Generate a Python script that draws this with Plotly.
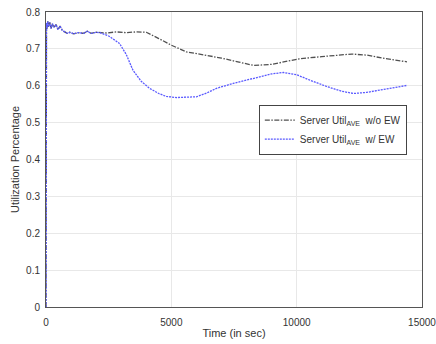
import plotly.graph_objects as go

t_wo = [0, 8, 20, 40, 70, 100, 150, 200, 260, 320, 400, 480, 560, 650, 750, 850, 950, 1100, 1300, 1500, 1650, 1800, 2000,
        2400, 2800, 3200, 3600, 4000, 4500, 5000, 5600, 6300, 7000, 7700, 8300, 9000, 9700, 10100, 11000, 11700, 12200,
        12800, 13500, 14400]
u_wo = [0, 0.45, 0.77, 0.755, 0.775, 0.76, 0.772, 0.755, 0.768, 0.758, 0.766, 0.752, 0.762, 0.75, 0.746, 0.742, 0.745, 0.741, 0.744, 0.742, 0.748, 0.742, 0.745,
        0.743, 0.746, 0.744, 0.746, 0.745, 0.728, 0.71, 0.692, 0.684, 0.675, 0.664, 0.655, 0.658, 0.667, 0.673, 0.679, 0.684, 0.686,
        0.683, 0.674, 0.665]

t_w = [0, 8, 20, 40, 70, 100, 150, 200, 260, 320, 400, 480, 560, 650, 750, 850, 950, 1100, 1300, 1500, 1650, 1800, 2000,
       2150, 2500, 2930, 3200, 3470, 3800, 4130, 4500, 4800, 5200, 6000, 6400, 6800, 7500, 8100, 8530, 9000, 9470, 10000,
       10530, 11200, 11800, 12270, 12800, 13500, 14400]
u_w = [0, 0.45, 0.77, 0.755, 0.775, 0.76, 0.772, 0.755, 0.768, 0.758, 0.766, 0.752, 0.762, 0.75, 0.746, 0.742, 0.745, 0.741, 0.744, 0.742, 0.748, 0.742, 0.745,
       0.744, 0.735, 0.715, 0.685, 0.642, 0.612, 0.593, 0.579, 0.571, 0.568, 0.57, 0.58, 0.593, 0.607, 0.617, 0.624, 0.632, 0.636, 0.63,
       0.615, 0.598, 0.585, 0.579, 0.582, 0.59, 0.601]

x_ticks = [0, 5000, 10000, 15000]
y_ticks = [0, 0.1, 0.2, 0.3, 0.4, 0.5, 0.6, 0.7, 0.8]

fig = go.Figure()
fig.add_trace(go.Scatter(x=t_wo, y=u_wo, mode="lines",
                         name="Server Util<sub>AVE</sub>  w/o EW",
                         line=dict(color="#505050", width=1.3, dash="5px,1.5px,1.5px,1.5px")))
fig.add_trace(go.Scatter(x=t_w, y=u_w, mode="lines",
                         name="Server Util<sub>AVE</sub>  w/ EW",
                         line=dict(color="#5a5aff", width=1.3, dash="2px,1px")))

axis_common = dict(showgrid=True, gridcolor="#e8e8e8", gridwidth=1, showline=True, linecolor="#555555",
                   linewidth=1, mirror=True, ticks="outside", tickcolor="rgba(0,0,0,0)",
                   zeroline=False, ticklabeloverflow="allow", automargin=False,
                   tickfont=dict(family="Liberation Sans", size=10, color="#333333"))

fig.update_layout(
    width=436, height=344,
    margin=dict(l=46, r=14, t=12, b=37),
    paper_bgcolor="white", plot_bgcolor="white",
    font=dict(family="Liberation Sans", size=10, color="#333333"),
    xaxis=dict(range=[0, 15000], tickvals=x_ticks, ticktext=[str(v) for v in x_ticks], ticklen=6,
               title=dict(text="Time (in sec)", font=dict(size=11), standoff=2), **axis_common),
    yaxis=dict(range=[0, 0.8], tickvals=y_ticks, ticktext=["0" if v == 0 else f"{v:.1f}" for v in y_ticks], ticklen=3,
               title=dict(text="Utilization Percentage", font=dict(size=11), standoff=4), **axis_common),
    legend=dict(x=0.566, y=0.686, xanchor="left", yanchor="top", bgcolor="white",
                bordercolor="#444444", borderwidth=1, font=dict(size=10, color="#333333"),
                tracegroupgap=0, itemwidth=30),
    showlegend=True,
)

fig.write_html("out.html")
